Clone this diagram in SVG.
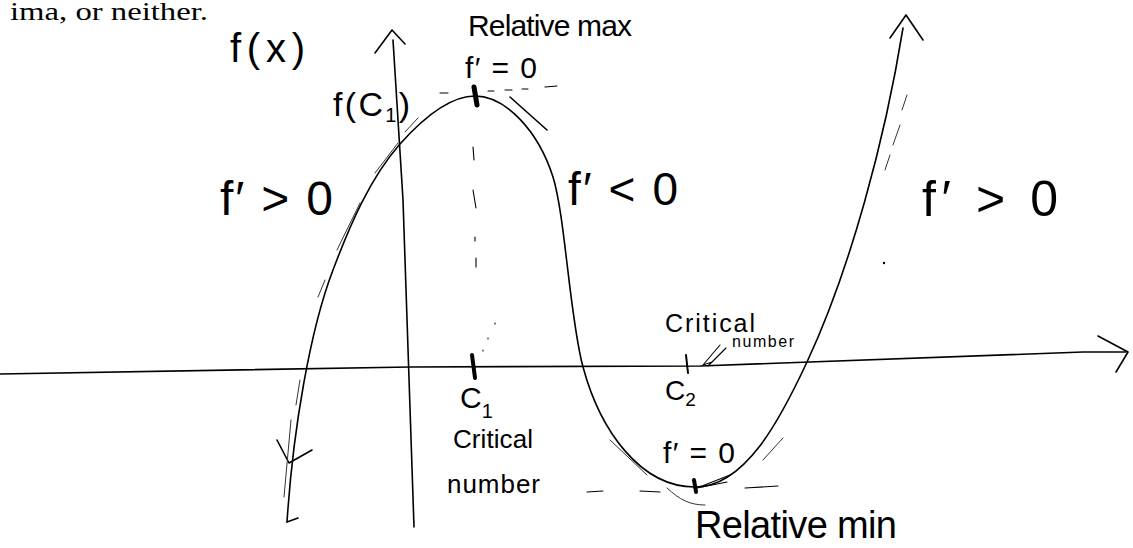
<svg xmlns="http://www.w3.org/2000/svg" width="1133" height="548" viewBox="0 0 1133 548">
<style>
.ln{fill:none;stroke:#000;stroke-width:1.6;stroke-linecap:round;stroke-linejoin:round}
.thin{fill:none;stroke:#000;stroke-width:1.1;stroke-linecap:round}
.faint{fill:none;stroke:#333;stroke-width:1;stroke-linecap:round}
.hand{font-family:"Liberation Sans","DejaVu Sans",sans-serif;fill:#000}
.serif{font-family:"Liberation Serif","DejaVu Serif",serif;fill:#000}
</style>
<rect width="1133" height="548" fill="#fff"/>
<text class="serif" x="10" y="20" font-size="25" textLength="198" lengthAdjust="spacingAndGlyphs">ima, or neither.</text>

<g id="axes">
<path class="ln" d="M0,374 L410,367 L700,366 L1083,352 L1126,352"/>
<path class="ln" d="M1098,336 L1128,352 L1116,372"/>
<path class="ln" d="M393,40 L403,200 L414,527"/>
<path class="ln" d="M375,53 L392,30 L405,44"/>
</g>

<g id="curve">
<path class="ln" d="M287,522 C293,430 310,330 333,270 C350,225 370,178 400,144 C425,116 450,96 475,96 C505,96 538,130 553,177 C565,215 570,320 583,367 C600,430 640,487 695,487 C745,487 780,420 807,362 C850,270 885,140 903,28"/>
<path class="ln" d="M287,522 L298,518"/>
<path class="ln" d="M277,440 L289,463 L312,450"/>
<path class="ln" d="M890,38 L906,15 L923,40"/>
<path class="faint" d="M284,497 L291,420 M296,405 L300,380 M318,297 L325,280 M337,250 L360,203 M375,173 L398,143 M405,132 L418,118"/>
<path class="faint" d="M907,95 L902,110 M900,125 L893,145 M890,155 L885,170"/>
<path class="faint" d="M610,440 L647,475 M763,460 L783,438"/>
<path class="ln" d="M510,97 L547,130"/>
<path class="faint" d="M667,488 C680,500 690,505 705,505"/>
</g>

<g id="marks">
<path d="M474,87 L477,105" stroke="#000" stroke-width="5" stroke-linecap="round"/>
<path d="M472,355 L475,378" stroke="#000" stroke-width="4" stroke-linecap="round"/>
<path d="M694,480 L696,492" stroke="#000" stroke-width="4" stroke-linecap="round"/>
<path d="M686,355 L688,373" stroke="#000" stroke-width="2" stroke-linecap="round"/>
<path class="thin" d="M440,93 L448,93 M488,91 L494,91 M505,90 L512,90 M522,89 L528,89 M545,87 L557,86"/>
<path class="thin" d="M473,147 L474,160 M473,190 L476,208 M475,237 L475,241 M476,258 L476,267 M495,323 L495,324 M488,338 L488,339 M483,350 L483,351"/>
<path class="thin" d="M587,492 L603,491 M640,491 L660,492 M745,488 L778,486"/>
<path class="thin" d="M720,345 L703,365 M726,348 L708,366 M703,365 L712,362"/>
<path class="thin" d="M730,475 L697,488 M727,482 L697,488"/>
<circle cx="884" cy="263" r="1.2" fill="#000"/>
</g>

<g id="labels">
<text class="hand" x="230" y="62" font-size="40" textLength="75" lengthAdjust="spacing">f(x)</text>
<text class="hand" x="468" y="36" font-size="30" textLength="164" lengthAdjust="spacing">Relative max</text>
<text class="hand" x="465" y="78" font-size="30" textLength="72" lengthAdjust="spacing">f′ = 0</text>
<text class="hand" x="333" y="116" font-size="34" textLength="77" lengthAdjust="spacing">f(C<tspan font-size="20" dy="6">1</tspan><tspan dy="-6">)</tspan></text>
<text class="hand" x="220" y="215" font-size="48" textLength="113" lengthAdjust="spacing">f′ &gt; 0</text>
<text class="hand" x="568" y="205" font-size="46" textLength="110" lengthAdjust="spacing">f′ &lt; 0</text>
<text class="hand" x="922" y="216" font-size="50" textLength="136" lengthAdjust="spacing">f′ &gt; 0</text>
<text class="hand" x="460" y="408" font-size="30">C<tspan font-size="20" dy="10">1</tspan></text>
<text class="hand" x="453" y="448" font-size="26" textLength="80" lengthAdjust="spacing">Critical</text>
<text class="hand" x="447" y="493" font-size="26" textLength="93" lengthAdjust="spacing">number</text>
<text class="hand" x="665" y="332" font-size="25" textLength="90" lengthAdjust="spacing">Critical</text>
<text class="hand" x="732" y="347" font-size="16" textLength="62" lengthAdjust="spacing">number</text>
<text class="hand" x="665" y="400" font-size="28">C<tspan font-size="19" dy="6">2</tspan></text>
<text class="hand" x="663" y="463" font-size="30" textLength="72" lengthAdjust="spacing">f′ = 0</text>
<text class="hand" x="695" y="538" font-size="38" textLength="202" lengthAdjust="spacing">Relative min</text>
</g>
</svg>
